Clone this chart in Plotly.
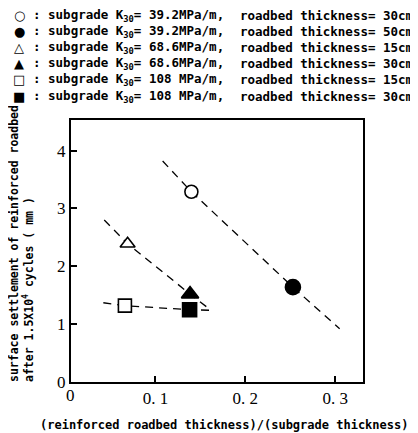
import plotly.graph_objects as go

# ---- data ----
ratio = [0.140, 0.253, 0.069, 0.1385, 0.066, 0.138]
settlement = [3.29, 1.64, 2.39, 1.52, 1.32, 1.25]
symbols = ["circle", "circle", "triangle-up", "triangle-up", "square", "square"]
filled = [False, True, False, True, False, True]
marker_sizes = [13, 15, 13, 15, 13, 14]

trend_k39_x = [0.108, 0.140, 0.253, 0.305]
trend_k39_y = [3.82, 3.29, 1.64, 0.92]
trend_k68_x = [0.043, 0.069, 0.1385, 0.161]
trend_k68_y = [2.80, 2.39, 1.52, 1.25]
trend_k108_x = [0.042, 0.066, 0.138, 0.161]
trend_k108_y = [1.37, 1.32, 1.25, 1.24]

legend_symbols = ["○", "●", "△", "▲", "□", "■"]
legend_k30 = ["39.2MPa/m,", "39.2MPa/m,", "68.6MPa/m,", "68.6MPa/m,", "108 MPa/m,", "108 MPa/m,"]
legend_thick = ["30cm", "50cm", "15cm", "30cm", "15cm", "30cm"]

x_tickvals = [0.1, 0.2, 0.3]
x_ticktext = ["0. 1", "0. 2", "0. 3"]
y_tickvals = [0, 1, 2, 3, 4]
y_ticktext = ["0", "1", "2", "3", "4"]

OFF = 8  # page body margin
W, H = 418 - OFF, 433 - OFF
L, T = 71 - OFF, 120 - OFF
R = W - (363 - OFF)
B = H - (382 - OFF)
PW, PH = W - L - R, H - T - B


def px(x):
    return (x - OFF - L) / PW


def py(y):
    return (H - B - (y - OFF)) / PH


fig = go.Figure()
dash_line = dict(color="black", width=1.3, dash="8px,6px")
for tx, ty in [(trend_k39_x, trend_k39_y), (trend_k68_x, trend_k68_y), (trend_k108_x, trend_k108_y)]:
    fig.add_trace(go.Scatter(x=tx, y=ty, mode="lines", line=dash_line,
                             showlegend=False, hoverinfo="skip"))

for xv, yv, sym, f, sz in zip(ratio, settlement, symbols, filled, marker_sizes):
    fig.add_trace(go.Scatter(
        x=[xv], y=[yv], mode="markers", showlegend=False,
        marker=dict(symbol=sym, size=sz, color="black" if f else "white",
                    line=dict(color="black", width=1.6))))

mono = "DejaVu Sans Mono"
annotations = []
row_y = [15, 31.2, 47.4, 63.6, 79.8, 96]
for i, (s, k, t) in enumerate(zip(legend_symbols, legend_k30, legend_thick)):
    annotations.append(dict(x=px(19), y=py(row_y[i]), xref="paper", yref="paper",
                            text=s, showarrow=False, xanchor="center", yanchor="middle",
                            borderpad=0,
                            font=dict(family="DejaVu Sans", size=13, color="black")))
    annotations.append(dict(x=px(32), y=py(row_y[i]), xref="paper", yref="paper",
                            text="<b>: subgrade K<sub>30</sub>= " + k + "</b>", showarrow=False,
                            xanchor="left", yanchor="middle", borderpad=0,
                            font=dict(family=mono, size=12.5, color="black")))
    annotations.append(dict(x=px(239), y=py(row_y[i]), xref="paper", yref="paper",
                            text="<b>roadbed thickness= " + t + "</b>", showarrow=False,
                            xanchor="left", yanchor="middle", borderpad=0,
                            font=dict(family=mono, size=12.5, color="black")))

annotations.append(dict(x=px(38), y=py(384), xref="paper", yref="paper",
                        text="<b>surface settlement of reinforced roadbed<br>after 1.5X10<sup>4</sup> cycles ( mm )</b>",
                        showarrow=False, textangle=-90, align="left",
                        xanchor="right", yanchor="bottom",
                        font=dict(family=mono, size=11.5, color="black")))
annotations.append(dict(x=px(224), y=py(425), xref="paper", yref="paper",
                        text="<b>(reinforced roadbed thickness)/(subgrade thickness)</b>",
                        showarrow=False, xanchor="center", yanchor="middle",
                        font=dict(family=mono, size=12, color="black")))
annotations.append(dict(x=px(70), y=py(395), xref="paper", yref="paper",
                        text="0", showarrow=False, xanchor="center", yanchor="middle",
                        font=dict(family="Liberation Serif", size=17, color="black")))

fig.update_layout(
    width=W, height=H,
    margin=dict(l=L, r=R, t=T, b=B, pad=0),
    paper_bgcolor="white", plot_bgcolor="white",
    annotations=annotations,
    xaxis=dict(range=[0.006, 0.331], tickvals=x_tickvals, ticktext=x_ticktext,
               ticks="inside", ticklen=6, tickwidth=2, tickcolor="black",
               showline=True, linewidth=2, linecolor="black", mirror=True,
               showgrid=False, zeroline=False,
               tickfont=dict(family="Liberation Serif", size=17, color="black")),
    yaxis=dict(range=[0, 4.53], tickvals=y_tickvals, ticktext=y_ticktext,
               ticks="inside", ticklen=6, tickwidth=2, tickcolor="black",
               showline=True, linewidth=2, linecolor="black", mirror=True,
               showgrid=False, zeroline=False,
               tickfont=dict(family="Liberation Serif", size=17, color="black")),
)

fig.write_html("out.html")
